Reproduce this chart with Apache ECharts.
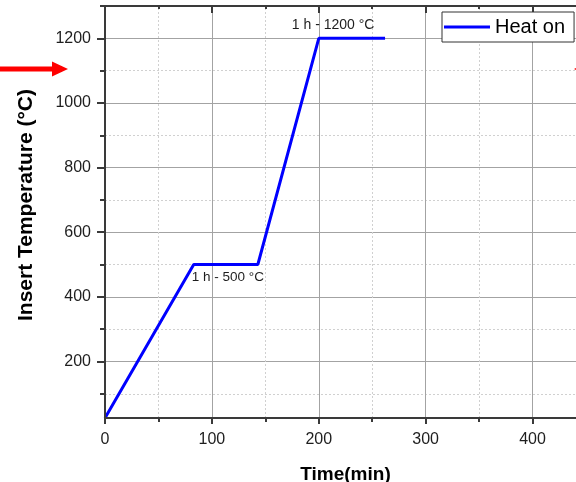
<!DOCTYPE html>
<html>
<head>
<meta charset="utf-8">
<script src="https://cdn.jsdelivr.net/npm/echarts@6/dist/echarts.min.js"></script>
<style>
  html, body { margin: 0; padding: 0; background: #fff; }
  #chart { width: 576px; height: 482px; }
</style>
</head>
<body>
<div id="chart"></div>
<script>
// Heating program of the furnace insert: time (min) vs temperature (°C)
const seriesName = 'Heat on';
const timeMin = [0, 83, 143, 200, 262];
const tempC = [25, 500, 500, 1200, 1200];

// Axis extents and tick positions
const xRange = [0, 450];
const yRange = [25, 1300];
const xMajorTicks = [0, 100, 200, 300, 400];
const xMinorTicks = [50, 150, 250, 350, 450];
const yMajorTicks = [200, 400, 600, 800, 1000, 1200];
const yMinorTicks = [100, 300, 500, 700, 900, 1100, 1300];

// Dwell annotations: [time, temperature, text]
const dwellNotes = [
  [83, 500, '1 h - 500 °C'],
  [200, 1200, '1 h - 1200 °C']
];
// Temperature level marked by the red arrows
const arrowLevel = 1105;

const FONT = "'Liberation Sans', Arial, Helvetica, sans-serif";
const AXIS_COLOR = '#3a3a3a';
const MAJOR_GRID = '#a3a3a3';
const MINOR_GRID = '#d0d0d0';

const chart = echarts.init(document.getElementById('chart'), null, { renderer: 'canvas' });

function tickAxis(opts) {
  return Object.assign({
    type: 'value',
    z: 3,
    axisLine: { show: false, onZero: false, lineStyle: { color: AXIS_COLOR, width: 2 } },
    axisTick: { show: true, inside: false, length: 6, lineStyle: { color: AXIS_COLOR, width: 2 } },
    axisLabel: { show: false },
    splitLine: { show: false },
    minorTick: { show: false },
    minorSplitLine: { show: false }
  }, opts);
}

const plainNumber = v => String(v);

const gridLines = []
  .concat(yMajorTicks.map(v => ({ yAxis: v, lineStyle: { color: MAJOR_GRID, width: 1, type: 'solid' } })))
  .concat(yMinorTicks.filter(v => v < yRange[1]).map(v => ({ yAxis: v, lineStyle: { color: MINOR_GRID, width: 1, type: [2, 2] } })))
  .concat(xMajorTicks.filter(v => v > xRange[0]).map(v => ({ xAxis: v, lineStyle: { color: MAJOR_GRID, width: 1, type: 'solid' } })))
  .concat(xMinorTicks.map(v => ({ xAxis: v, lineStyle: { color: MINOR_GRID, width: 1, type: [2, 2] } })));

chart.setOption({
  animation: false,
  backgroundColor: '#fff',
  grid: { left: 105, top: 6, right: -10, bottom: 64, containLabel: false, outerBoundsMode: 'none' },
  legend: {
    data: [{ name: seriesName, icon: 'rect' }],
    left: 442,
    top: 12,
    itemWidth: 46,
    itemHeight: 3,
    padding: [5, 9, 5, 2],
    borderColor: '#333',
    borderWidth: 1,
    borderRadius: 0,
    backgroundColor: '#fff',
    selectedMode: false,
    z: 10,
    textStyle: { fontSize: 20, color: '#000', fontFamily: FONT }
  },
  xAxis: [
    tickAxis({
      position: 'bottom', min: xRange[0], max: xRange[1],
      axisLine: { show: true, onZero: false, lineStyle: { color: AXIS_COLOR, width: 2 } },
      axisTick: { show: true, customValues: xMajorTicks, length: 6, lineStyle: { color: AXIS_COLOR, width: 2 } },
      axisLabel: { show: true, customValues: xMajorTicks, formatter: plainNumber, margin: 14, fontSize: 16, color: '#1e1e1e', fontFamily: FONT },
      name: 'Time(min)', nameLocation: 'middle', nameGap: 47,
      nameTextStyle: { fontSize: 19, fontWeight: 'bold', color: '#000', fontFamily: FONT }
    }),
    tickAxis({
      position: 'bottom', min: xRange[0], max: xRange[1],
      axisTick: { show: true, customValues: xMinorTicks, length: 4, lineStyle: { color: AXIS_COLOR, width: 2 } }
    }),
    tickAxis({
      position: 'top', min: xRange[0], max: xRange[1],
      axisLine: { show: true, onZero: false, lineStyle: { color: AXIS_COLOR, width: 2 } },
      axisTick: { show: true, inside: true, customValues: xMajorTicks, length: 7, lineStyle: { color: AXIS_COLOR, width: 2 } }
    }),
    tickAxis({
      position: 'top', min: xRange[0], max: xRange[1],
      axisTick: { show: true, inside: true, customValues: xMinorTicks, length: 3, lineStyle: { color: AXIS_COLOR, width: 2 } }
    })
  ],
  yAxis: [
    tickAxis({
      position: 'left', min: yRange[0], max: yRange[1],
      axisLine: { show: true, onZero: false, lineStyle: { color: AXIS_COLOR, width: 2 } },
      axisTick: { show: true, customValues: yMajorTicks, length: 8, lineStyle: { color: AXIS_COLOR, width: 2 } },
      axisLabel: { show: true, customValues: yMajorTicks, formatter: plainNumber, margin: 14, fontSize: 16, color: '#1e1e1e', fontFamily: FONT },
      name: 'Insert Temperature (°C)', nameLocation: 'middle', nameGap: 68,
      nameTextStyle: { fontSize: 21, fontWeight: 'bold', color: '#000', fontFamily: FONT, padding: [0, 0, 0, 14] }
    }),
    tickAxis({
      position: 'left', min: yRange[0], max: yRange[1],
      axisTick: { show: true, customValues: yMinorTicks, length: 5, lineStyle: { color: AXIS_COLOR, width: 2 } }
    })
  ],
  series: [{
    type: 'line',
    name: seriesName,
    xAxisIndex: 0,
    yAxisIndex: 0,
    data: timeMin.map((t, i) => [t, tempC[i]]),
    showSymbol: false,
    symbol: 'none',
    z: 2,
    color: '#0000ff',
    lineStyle: { color: '#0000ff', width: 3 },
    markLine: {
      silent: true,
      symbol: 'none',
      z: 1,
      label: { show: false },
      emphasis: { disabled: true },
      data: gridLines
    }
  }]
});

// Dwell labels and arrows placed from data coordinates
const noteOffsets = [[-2, 13], [-27, -13]];
const noteSizes = [13.5, 14];
const graphics = dwellNotes.map(([t, v, text], i) => {
  const p = chart.convertToPixel({ xAxisIndex: 0, yAxisIndex: 0 }, [t, v]);
  return {
    type: 'text',
    x: p[0] + noteOffsets[i][0],
    y: p[1] + noteOffsets[i][1],
    z: 20,
    style: { text: text, fontSize: noteSizes[i], fontFamily: FONT, fill: '#1e1e1e', align: 'left', verticalAlign: 'middle' }
  };
});

const ay = chart.convertToPixel({ yAxisIndex: 0 }, arrowLevel);
const axisLeft = chart.convertToPixel({ xAxisIndex: 0 }, xRange[0]);
const tipL = axisLeft - 37;
const tipR = 574;
graphics.push({
  type: 'polygon', z: 20,
  shape: { points: [[0, ay - 2.5], [tipL - 16, ay - 2.5], [tipL - 16, ay - 7.5], [tipL, ay], [tipL - 16, ay + 7.5], [tipL - 16, ay + 2.5], [0, ay + 2.5]] },
  style: { fill: '#ff0000' }
});
graphics.push({
  type: 'polygon', z: 20,
  shape: { points: [[tipR, ay], [tipR + 16, ay - 7.5], [tipR + 16, ay - 2.5], [tipR + 60, ay - 2.5], [tipR + 60, ay + 2.5], [tipR + 16, ay + 2.5], [tipR + 16, ay + 7.5]] },
  style: { fill: '#ff0000' }
});

chart.setOption({ graphic: graphics });
</script>
</body>
</html>
